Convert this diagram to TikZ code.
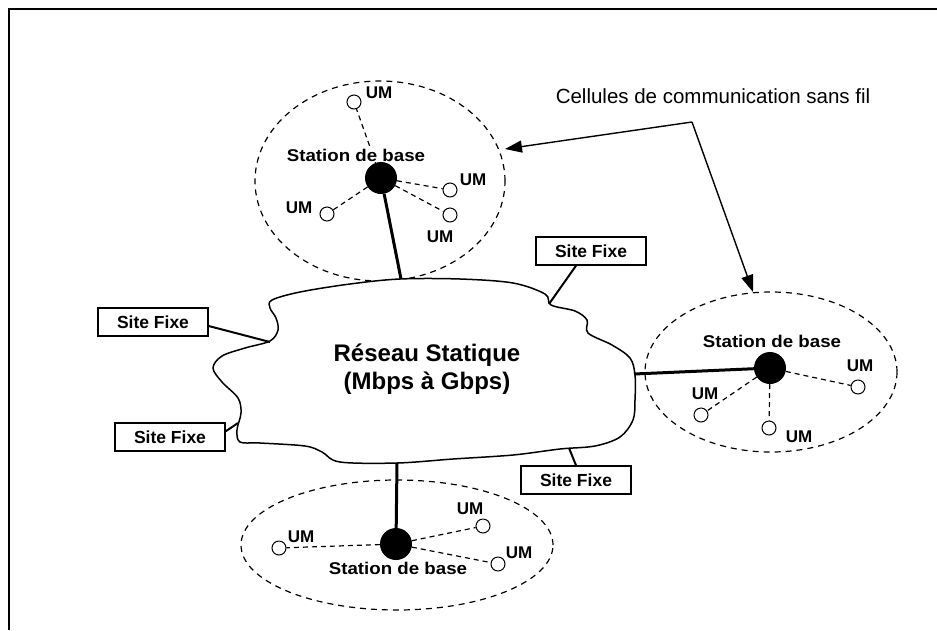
\documentclass[tikz,border=0pt]{standalone}
\usepackage{fontspec}
\setmainfont{Liberation Sans}
\usetikzlibrary{arrows.meta}

\tikzset{
  lbl/.style={font=\fontsize{17}{20}\selectfont\bfseries, inner sep=0pt},
  bslbl/.style={lbl, fill=white, inner sep=1pt},
  bigtitle/.style={font=\fontsize{24}{28}\selectfont\bfseries, align=center, inner sep=0pt},
  note/.style={font=\fontsize{20.5}{24}\selectfont, inner sep=0pt},
  sitebox/.style={draw, line width=1.4pt, minimum width=110pt, minimum height=28pt,
                  font=\fontsize{17.5}{20}\selectfont\bfseries, inner sep=0pt},
  basestation/.style={circle, fill=black, minimum size=32pt, inner sep=0pt},
  mobile/.style={circle, draw, line width=1pt, minimum size=14pt, inner sep=0pt},
  cell/.style={draw, line width=1.2pt, dash pattern=on 6pt off 5pt},
  radio/.style={line width=1.2pt, dash pattern=on 5pt off 4pt},
  backbone/.style={line width=3pt},
  wire/.style={line width=2pt},
  pointer/.style={line width=1.4pt, -{Triangle[length=17pt,width=12pt]}},
}
\newcommand{\bsname}{\scalebox{1.1}[1]{Station de base}}

\begin{document}
\begin{tikzpicture}[x=1pt,y=-1pt]
\useasboundingbox (0,0) rectangle (937,630);

% frame
\draw[line width=2pt] (9,630) -- (9,9) -- (937,9);

% wireless cells
\draw[cell] (380,181) ellipse [x radius=125pt, y radius=100pt];
\draw[cell] (771,372) ellipse [x radius=126pt, y radius=80pt];
\draw[cell] (397,545) ellipse [x radius=156pt, y radius=65pt];

% static network cloud
\draw[line width=1.5pt, fill=white] plot[smooth cycle, tension=0.55] coordinates {
  (272,300) (300,292) (350,284) (400,279) (460,279) (513,283) (545,294)
  (551,305) (575,311) (587,320) (588,333) (612,345) (630,358) (635,375)
  (635,400) (633,420) (620,437) (595,446) (560,449) (513,455) (453,459)
  (397,463) (340,462) (322,452) (305,446) (260,443) (240,442) (237,430)
  (241,413) (238,398) (222,382) (213,368) (222,356) (245,348) (270,341)
  (278,330) (276,318) (270,308)};
\node[bigtitle] (net) at (427,369) {Réseau Statique\\(Mbps à Gbps)};

% attachment points on the cloud
\coordinate (pTop) at (401,279);
\coordinate (pRight) at (634,374);
\coordinate (pBottom) at (397,463);
\coordinate (pL1) at (270,342);
\coordinate (pL2) at (238,423);
\coordinate (pR1) at (549,304);
\coordinate (pR2) at (569,448);

% --- top cell
\node[basestation] (bsA) at (381,178) {};
\node[mobile] (a1) at (354,102) {};
\node[mobile] (a2) at (450,190) {};
\node[mobile] (a3) at (450,215) {};
\node[mobile] (a4) at (327,214) {};
\foreach \m in {a1,a2,a3,a4} \draw[radio] (bsA) -- (\m);
\draw[backbone] (bsA) -- (pTop);
\node[bslbl] (bsAlbl) at (356,155) {\bsname};
\node[lbl] at (379,93) {UM};
\node[lbl] at (473,180) {UM};
\node[lbl] at (440,237) {UM};
\node[lbl] at (299,208) {UM};

% --- right cell
\node[basestation] (bsB) at (770,368) {};
\node[mobile] (b1) at (858,387) {};
\node[mobile] (b2) at (701,415) {};
\node[mobile] (b3) at (769,428) {};
\foreach \m in {b1,b2,b3} \draw[radio] (bsB) -- (\m);
\draw[backbone] (pRight) -- (bsB);
\node[lbl] at (772,341) {\bsname};
\node[lbl] at (860,366) {UM};
\node[lbl] at (705,394) {UM};
\node[lbl] at (799,437) {UM};

% --- bottom cell
\node[basestation] (bsC) at (396,544) {};
\node[mobile] (c1) at (279,548) {};
\node[mobile] (c2) at (483,526) {};
\node[mobile] (c3) at (498,564) {};
\foreach \m in {c1,c2,c3} \draw[radio] (bsC) -- (\m);
\draw[backbone] (pBottom) -- (bsC);
\node[lbl] at (398,568) {\bsname};
\node[lbl] at (301,537) {UM};
\node[lbl] at (470,509) {UM};
\node[lbl] at (519,553) {UM};

% fixed sites
\node[sitebox] (s1) at (153,322) {Site Fixe};
\node[sitebox] (s2) at (170,437) {Site Fixe};
\node[sitebox] (s3) at (591,251) {Site Fixe};
\node[sitebox] (s4) at (576,480) {Site Fixe};
\draw[wire] (s1.east) ++(0,4) -- (pL1);
\draw[wire] (s2.north east) ++(0,9) -- (pL2);
\draw[wire] (s3.south) ++(-15,0) -- (pR1);
\draw[wire] (s4.north) -- (pR2);

% label for the cells
\node[note] (cap) at (713,96) {Cellules de communication sans fil};
\coordinate (bend) at (692,122);
\coordinate (tipA) at (505,149);
\coordinate (tipB) at (753,292);
\draw[pointer] (bend) -- (tipA);
\draw[pointer] (bend) -- (tipB);
\end{tikzpicture}
\end{document}
